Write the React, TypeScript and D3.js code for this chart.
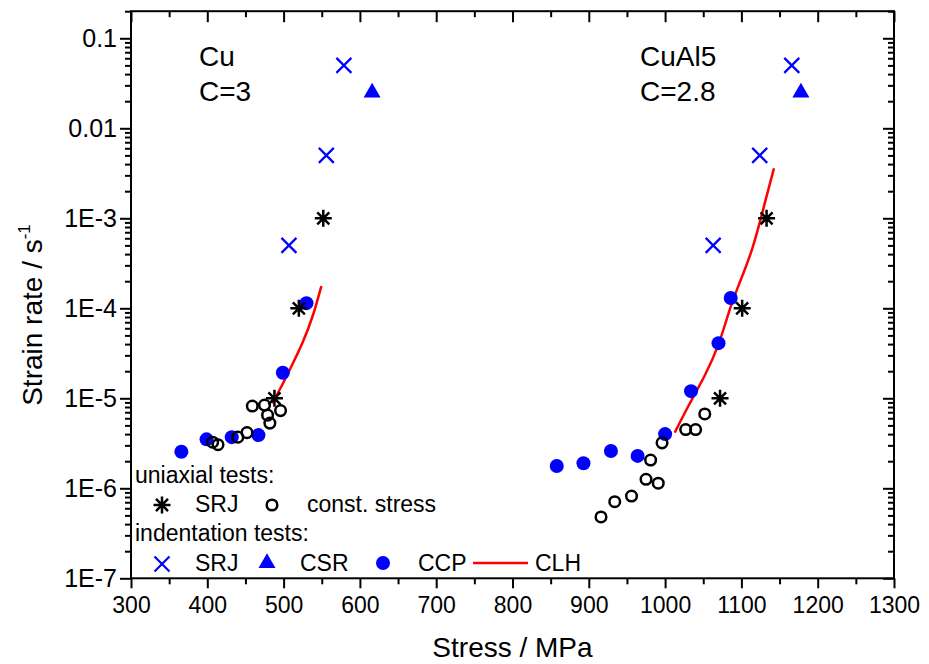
import React, { useLayoutEffect, useRef } from "react";
import * as d3 from "d3";

// uniaxial tests, strain rate jump
const cuSrjX = [488, 520, 552];
const cuSrjY = [1e-5, 1e-4, 1e-3];
const alSrjX = [1072, 1101, 1133];
const alSrjY = [1e-5, 1e-4, 1e-3];

// uniaxial tests, constant stress
const cuConstX = [407, 414, 440, 452, 459, 475, 479, 482, 496];
const cuConstY = [3.25e-6, 3.05e-6, 3.7e-6, 4.15e-6, 8.2e-6, 8.4e-6, 6.5e-6, 5.3e-6, 7.3e-6];
const alConstX = [916, 934, 956, 975, 991, 981, 996, 1027, 1040, 1052];
const alConstY = [4.8e-7, 7.1e-7, 8.2e-7, 1.26e-6, 1.14e-6, 2.06e-6, 3.2e-6, 4.5e-6, 4.5e-6, 6.7e-6];

// indentation tests, strain rate jump
const cuIndSrjX = [507, 556, 579];
const cuIndSrjY = [5e-4, 5e-3, 0.05];
const alIndSrjX = [1063, 1124, 1166];
const alIndSrjY = [5e-4, 5e-3, 0.05];

// indentation tests, constant strain rate
const csrX = [616, 1178];
const csrY = [0.025, 0.025];

// indentation tests, constant contact pressure
const cuCcpX = [366, 399, 432, 467, 499, 530];
const cuCcpY = [2.55e-6, 3.5e-6, 3.7e-6, 3.9e-6, 1.92e-5, 1.14e-4];
const alCcpX = [858, 893, 929, 964, 1000, 1034, 1070, 1086];
const alCcpY = [1.77e-6, 1.9e-6, 2.6e-6, 2.29e-6, 4.0e-6, 1.2e-5, 4.1e-5, 1.3e-4];

// CLH curves
const cuClhX = [485, 495, 510, 525, 538.5, 549.5];
const cuClhY = [8.8e-6, 1.24e-5, 2.24e-5, 4.08e-5, 8.07e-5, 1.77e-4];
const alClhX = [1012.6, 1032, 1052, 1071.6, 1084, 1095.5, 1115, 1130.5, 1142.7];
const alClhY = [4.15e-6, 8.8e-6, 1.74e-5, 4.08e-5, 9.6e-5, 1.74e-4, 4.45e-4, 1.47e-3, 3.6e-3];

const xTicks = [300, 400, 500, 600, 700, 800, 900, 1000, 1100, 1200, 1300];
const yTicks = [0.1, 0.01, 1e-3, 1e-4, 1e-5, 1e-6, 1e-7];
const yTickLabels = ["0.1", "0.01", "1E-3", "1E-4", "1E-5", "1E-6", "1E-7"];

const W = 929;
const H = 664;
const FONT = "'Liberation Sans', Arial, sans-serif";
const BLUE = "#0000ff";

const zip = (xs: number[], ys: number[]) => xs.map((v, i) => [v, ys[i]] as [number, number]);

export default function App() {
  const ref = useRef<SVGSVGElement>(null);

  useLayoutEffect(() => {
    const svg = d3.select(ref.current);
    svg.selectAll("*").remove();

    const x = d3.scaleLinear().domain([300, 1300]).range([131, 894]);
    const y = d3.scaleLog().domain([1e-7, 0.2]).range([578.3, 11.2]);
    const [x0, x1] = x.range();
    const [y0, y1] = y.range();

    const minorX = d3.range(350, 1300, 100);
    const minorY: number[] = [];
    for (let e = -7; e <= -1; e++) {
      for (let k = 2; k <= 9; k++) {
        const v = k * Math.pow(10, e);
        if (v <= 0.2 + 1e-9) minorY.push(v);
      }
    }

    const g = svg.append("g").attr("font-family", FONT);

    // axes: bottom/left ticks outward, top/right mirrored inward
    const axisStyle = (sel: any) => {
      sel.select(".domain").remove();
      sel.selectAll("line").attr("stroke", "#000").attr("stroke-width", 2);
    };

    g.append("g")
      .attr("transform", `translate(0,${y0})`)
      .call(d3.axisBottom(x).tickValues(xTicks).tickSize(10).tickPadding(8).tickFormat(d3.format("d")))
      .call(axisStyle)
      .selectAll("text")
      .attr("font-size", 23)
      .attr("fill", "#000");
    g.append("g")
      .attr("transform", `translate(0,${y0})`)
      .call(d3.axisBottom(x).tickValues(minorX).tickSize(6).tickFormat(() => ""))
      .call(axisStyle);
    g.append("g")
      .attr("transform", `translate(0,${y1})`)
      .call(d3.axisTop(x).tickValues(xTicks).tickSize(-11).tickFormat(() => ""))
      .call(axisStyle);
    g.append("g")
      .attr("transform", `translate(0,${y1})`)
      .call(d3.axisTop(x).tickValues(minorX).tickSize(-6).tickFormat(() => ""))
      .call(axisStyle);

    g.append("g")
      .attr("transform", `translate(${x0},0)`)
      .call(
        d3.axisLeft(y).tickValues(yTicks).tickSize(11).tickPadding(3)
          .tickFormat((d, i) => yTickLabels[i])
      )
      .call(axisStyle)
      .selectAll("text")
      .attr("font-size", 25)
      .attr("fill", "#000");
    g.append("g")
      .attr("transform", `translate(${x0},0)`)
      .call(d3.axisLeft(y).tickValues(minorY).tickSize(6).tickFormat(() => ""))
      .call(axisStyle);
    g.append("g")
      .attr("transform", `translate(${x1},0)`)
      .call(d3.axisRight(y).tickValues(yTicks).tickSize(-11).tickFormat(() => ""))
      .call(axisStyle);
    g.append("g")
      .attr("transform", `translate(${x1},0)`)
      .call(d3.axisRight(y).tickValues(minorY).tickSize(-6).tickFormat(() => ""))
      .call(axisStyle);

    // frame
    g.append("rect")
      .attr("x", x0)
      .attr("y", y1)
      .attr("width", x1 - x0)
      .attr("height", y0 - y1)
      .attr("fill", "none")
      .attr("stroke", "#000")
      .attr("stroke-width", 2);

    // axis titles
    g.append("text")
      .attr("x", (x0 + x1) / 2)
      .attr("y", 657)
      .attr("text-anchor", "middle")
      .attr("font-size", 28)
      .text("Stress / MPa");

    const yt = g.append("text")
      .attr("transform", "translate(42,315) rotate(-90)")
      .attr("text-anchor", "middle")
      .attr("font-size", 28);
    yt.append("tspan").text("Strain rate / s");
    yt.append("tspan").attr("font-size", 17).attr("dy", -12).text("-1");

    // annotations
    const note = (tx: number, ty: number, s: string) =>
      g.append("text").attr("x", tx).attr("y", ty).attr("font-size", 28).text(s);
    note(199, 66, "Cu");
    note(199, 101, "C=3");
    note(640, 66, "CuAl5");
    note(640, 101, "C=2.8");

    // marker paths
    const star = (r: number) => {
      const d = r * Math.SQRT1_2;
      return `M${-r},0L${r},0M0,${-r}L0,${r}M${-d},${-d}L${d},${d}M${-d},${d}L${d},${-d}`;
    };
    const cross = (r: number) => `M${-r},${-r}L${r},${r}M${-r},${r}L${r},${-r}`;
    const tri = d3.symbol(d3.symbolTriangle, 125)();

    const plot = g.append("g");

    // CLH lines
    const line = d3
      .line<[number, number]>()
      .x((d) => x(d[0]))
      .y((d) => y(d[1]))
      .curve(d3.curveBasis);
    [zip(cuClhX, cuClhY), zip(alClhX, alClhY)].forEach((pts) =>
      plot.append("path").attr("d", line(pts)).attr("fill", "none").attr("stroke", "#ff0000").attr("stroke-width", 2.5)
    );

    // CCP
    plot.selectAll(".ccp")
      .data([...zip(cuCcpX, cuCcpY), ...zip(alCcpX, alCcpY)])
      .join("circle")
      .attr("cx", (d) => x(d[0]))
      .attr("cy", (d) => y(d[1]))
      .attr("r", 7)
      .attr("fill", BLUE);

    // const. stress
    plot.selectAll(".cs")
      .data([...zip(cuConstX, cuConstY), ...zip(alConstX, alConstY)])
      .join("circle")
      .attr("cx", (d) => x(d[0]))
      .attr("cy", (d) => y(d[1]))
      .attr("r", 5.3)
      .attr("fill", "none")
      .attr("stroke", "#000")
      .attr("stroke-width", 2.5);

    // uniaxial SRJ
    plot.selectAll(".srj")
      .data([...zip(cuSrjX, cuSrjY), ...zip(alSrjX, alSrjY)])
      .join("path")
      .attr("transform", (d) => `translate(${x(d[0])},${y(d[1])})`)
      .attr("d", star(8.5))
      .attr("stroke", "#000")
      .attr("stroke-width", 2.5);

    // indentation SRJ
    plot.selectAll(".isrj")
      .data([...zip(cuIndSrjX, cuIndSrjY), ...zip(alIndSrjX, alIndSrjY)])
      .join("path")
      .attr("transform", (d) => `translate(${x(d[0])},${y(d[1])})`)
      .attr("d", cross(7.5))
      .attr("stroke", BLUE)
      .attr("stroke-width", 2.2);

    // CSR
    plot.selectAll(".csr")
      .data(zip(csrX, csrY))
      .join("path")
      .attr("transform", (d) => `translate(${x(d[0])},${y(d[1])})`)
      .attr("d", tri)
      .attr("fill", BLUE);

    // legend
    const lg = g.append("g").attr("font-size", 23);
    lg.append("text").attr("x", 135).attr("y", 483).text("uniaxial tests:");
    lg.append("path").attr("transform", "translate(162,505)").attr("d", star(8.5)).attr("stroke", "#000").attr("stroke-width", 2.5);
    lg.append("text").attr("x", 195).attr("y", 512).text("SRJ");
    lg.append("circle").attr("cx", 272).attr("cy", 505).attr("r", 5.3).attr("fill", "none").attr("stroke", "#000").attr("stroke-width", 2.5);
    lg.append("text").attr("x", 307).attr("y", 512).text("const. stress");
    lg.append("text").attr("x", 135).attr("y", 541).text("indentation tests:");
    lg.append("path").attr("transform", "translate(162,564)").attr("d", cross(7.5)).attr("stroke", BLUE).attr("stroke-width", 2.2);
    lg.append("text").attr("x", 195).attr("y", 571).text("SRJ");
    lg.append("path").attr("transform", "translate(267,563)").attr("d", tri).attr("fill", BLUE);
    lg.append("text").attr("x", 300).attr("y", 571).text("CSR");
    lg.append("circle").attr("cx", 383).attr("cy", 563).attr("r", 7).attr("fill", BLUE);
    lg.append("text").attr("x", 418).attr("y", 571).text("CCP");
    lg.append("line").attr("x1", 473).attr("x2", 528).attr("y1", 563).attr("y2", 563).attr("stroke", "#ff0000").attr("stroke-width", 2.5);
    lg.append("text").attr("x", 535).attr("y", 571).text("CLH");
  }, []);

  return (
    <svg
      ref={ref}
      width={W}
      height={H}
      style={{ position: "absolute", left: 0, top: 0, background: "#fff" }}
    />
  );
}
